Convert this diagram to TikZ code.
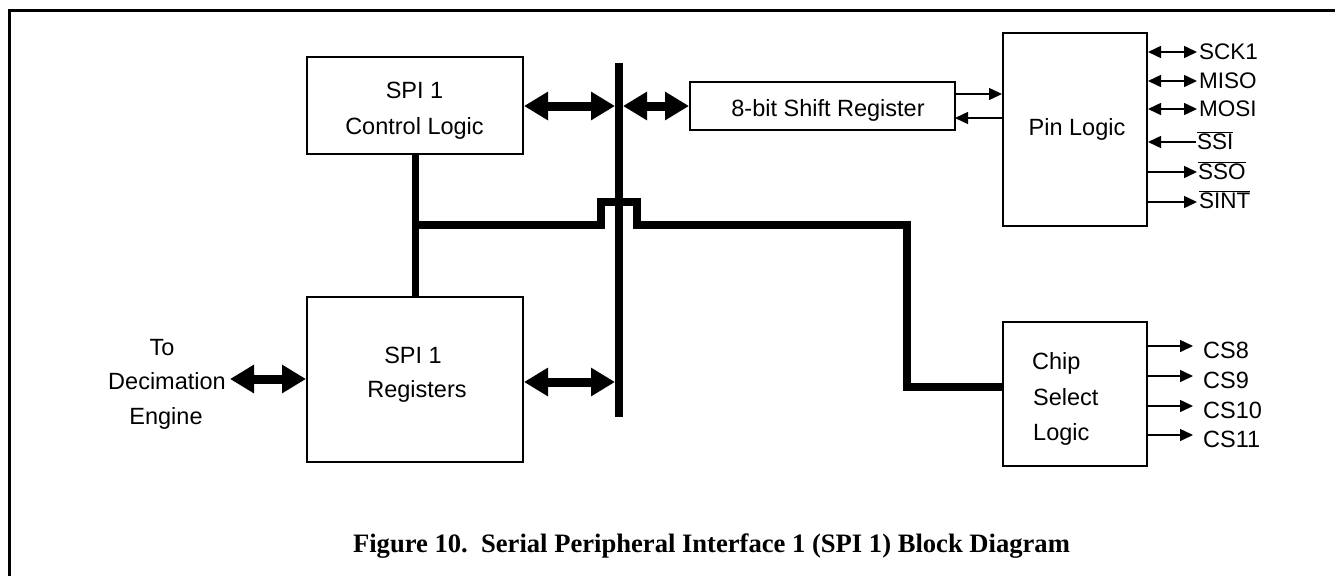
\documentclass[tikz,border=0pt]{standalone}
\usepackage{fontspec}
\setmainfont{Liberation Sans}
\newfontfamily\capfont{Liberation Serif}
\usetikzlibrary{arrows.meta}
\newcommand\ovl[1]{$\overline{\mbox{#1}}$}
\begin{document}
\begin{tikzpicture}[x=1pt,y=-1pt,
  box/.style={draw, line width=2pt, inner sep=0pt},
  lbl/.style={font=\fontsize{23.5}{35}\selectfont, inner sep=0pt, anchor=base},
  lblw/.style={font=\fontsize{23.5}{35}\selectfont, inner sep=0pt, anchor=base west},
  plbl/.style={font=\fontsize{22.5}{30}\selectfont, inner sep=0pt, anchor=base west},
  busline/.style={line width=8pt, line join=miter},
  bigarr/.style={line width=9pt, {Triangle[length=24pt,width=27pt]}-{Triangle[length=24pt,width=27pt]}},
  thinarr/.style={line width=1.5pt, -{Triangle[length=13pt,width=12pt]}},
  thinboth/.style={line width=1.5pt, {Triangle[length=13pt,width=12pt]}-{Triangle[length=13pt,width=12pt]}}]
\useasboundingbox (0,0) rectangle (1335,576);
% frame
\draw[line width=3pt, line join=miter] (9.5,576) -- (9.5,10.5) -- (1335,10.5);
% boxes
\node[box, minimum width=216pt, minimum height=97pt] (ctl) at (415,105.5) {};
\node[box, minimum width=216pt, minimum height=165pt] (reg) at (415,379.5) {};
\node[box, minimum width=265pt, minimum height=48pt] (shift) at (822.5,106) {};
\node[box, minimum width=144pt, minimum height=193pt] (pin) at (1075,129.5) {};
\node[box, minimum width=144pt, minimum height=144pt] (cs) at (1075,394) {};
% box texts
\node[lbl] (ctlA) at (414.5,98.5) {SPI 1};
\node[lbl] (ctlB) at (414.5,134.5) {Control Logic};
\node[lbl] (regA) at (413,363.5) {SPI 1};
\node[lbl] (regB) at (417,397.5) {Registers};
\node[lbl] (shiftT) at (828,116.5) {8-bit Shift Register};
\node[lbl] (pinT) at (1077,135.5) {Pin Logic};
\node[lblw] (csA) at (1032,369) {Chip};
\node[lblw] (csB) at (1033,405) {Select};
\node[lblw] (csC) at (1033,440) {Logic};
\node[lbl] (decA) at (162,355) {To};
\node[lbl] (decB) at (167,389) {Decimation};
\node[lbl] (decC) at (166,424) {Engine};
% bus
\coordinate (bt) at (619,63);
\coordinate (bb) at (619,417);
\draw[line width=8pt] (bt) -- (bb);
% control to registers and to chip select
\draw[line width=7pt] (ctl.south) -- (ctl.south |- reg.north);
\coordinate (j0) at (415,225);
\coordinate (cj) at (907,387);
\draw[busline] (j0) -- (601,225) -- (601,202) -- (637,202) -- (637,225) -- (907,225) -- (cj) -- (cs.west |- cj);
% thick arrows
\coordinate (bL1) at (615,106);
\coordinate (bR1) at (623,106);
\coordinate (bL2) at (615,382);
\coordinate (dec) at (230,379);
\draw[bigarr] (ctl.east |- bL1) -- (bL1);
\draw[bigarr] (bR1) -- (shift.west |- bR1);
\draw[bigarr] (reg.east |- bL2) -- (bL2);
\draw[bigarr] (dec) -- (reg.west |- dec);
% shift <-> pin
\coordinate (sp1) at (955,94);
\coordinate (sp2) at (955,118);
\draw[thinarr] (sp1) -- (pin.west |- sp1);
\draw[thinarr] (pin.west |- sp2) -- (sp2);
% pin signals
\node[plbl] (sck) at (1199,59.5) {SCK1};
\node[plbl] (miso) at (1199,88) {MISO};
\node[plbl] (mosi) at (1199,116.5) {MOSI};
\node[plbl] (ssi) at (1197,149.5) {\ovl{SSI}};
\node[plbl] (sso) at (1198,179) {\ovl{SSO}};
\node[plbl] (sint) at (1199,208.5) {\ovl{SINT}};
\coordinate (p1) at (1197,52);
\coordinate (p2) at (1197,81);
\coordinate (p3) at (1197,109);
\coordinate (p4) at (1196,142);
\coordinate (p5) at (1197,172);
\coordinate (p6) at (1197,202);
\draw[thinboth] (pin.east |- p1) -- (p1);
\draw[thinboth] (pin.east |- p2) -- (p2);
\draw[thinboth] (pin.east |- p3) -- (p3);
\draw[thinarr] (p4) -- (pin.east |- p4);
\draw[thinarr] (pin.east |- p5) -- (p5);
\draw[thinarr] (pin.east |- p6) -- (p6);
% chip select outputs
\node[lblw] (cs8) at (1203,358) {CS8};
\node[lblw] (cs9) at (1203,388) {CS9};
\node[lblw] (cs10) at (1203,418) {CS10};
\node[lblw] (cs11) at (1203,447) {CS11};
\coordinate (c1) at (1193,346);
\coordinate (c2) at (1193,376);
\coordinate (c3) at (1193,406);
\coordinate (c4) at (1193,435);
\draw[thinarr] (cs.east |- c1) -- (c1);
\draw[thinarr] (cs.east |- c2) -- (c2);
\draw[thinarr] (cs.east |- c3) -- (c3);
\draw[thinarr] (cs.east |- c4) -- (c4);
% caption
\node[font=\capfont\bfseries\fontsize{26.6}{30}\selectfont, inner sep=0pt, anchor=base] (cap) at (711.5,552) {Figure 10.\ \ Serial Peripheral Interface 1 (SPI 1) Block Diagram};
\end{tikzpicture}
\end{document}
